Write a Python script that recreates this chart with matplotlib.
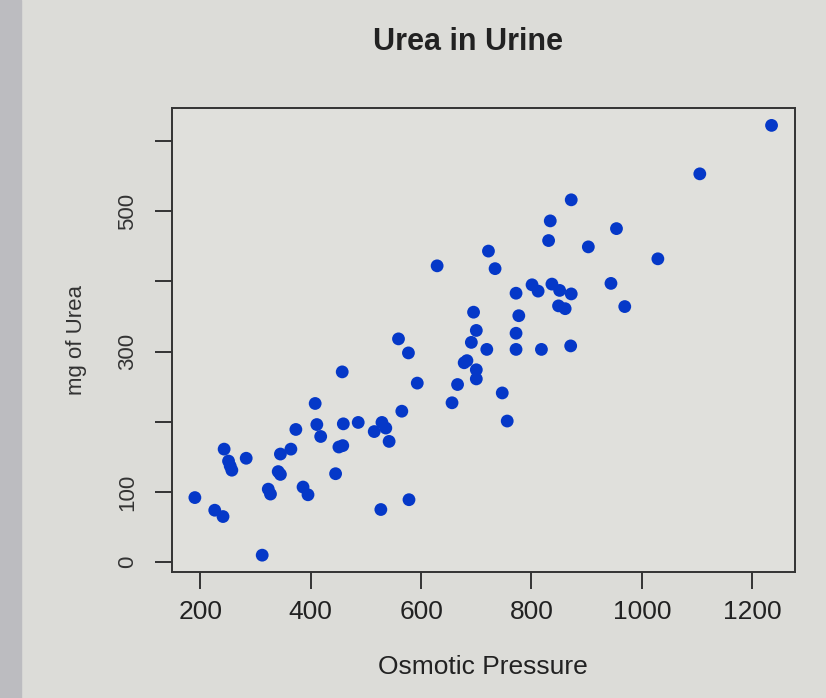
import matplotlib
matplotlib.use("Agg")
import matplotlib.pyplot as plt
from matplotlib.patches import Rectangle

# osmotic pressure vs urea
osmo = [190, 226, 241, 243, 251, 254, 257, 283, 312, 323, 327, 341, 345, 345,
        364, 373, 386, 395, 408, 411, 418, 445, 451, 458, 459, 457, 486, 515,
        529, 536, 542, 527, 565, 559, 577, 578, 593, 629, 656, 666, 678, 683,
        691, 695, 700, 700, 700, 719, 722, 734, 747, 756, 772, 777, 772, 772,
        801, 812, 818, 831, 834, 837, 851, 849, 861, 872, 872, 871, 903, 944,
        954, 969, 1029, 1105, 1235]
urea = [92, 74, 65, 161, 144, 137, 131, 148, 10, 104, 97, 129, 125, 154,
        161, 189, 107, 96, 226, 196, 179, 126, 164, 166, 197, 271, 199, 186,
        199, 191, 172, 75, 215, 318, 298, 89, 255, 422, 227, 253, 284, 287,
        313, 356, 330, 274, 261, 303, 443, 418, 241, 201, 383, 351, 326, 303,
        395, 386, 303, 458, 486, 396, 387, 365, 361, 382, 516, 308, 449, 397,
        475, 364, 432, 553, 622]

x_ticks = [200, 400, 600, 800, 1000, 1200]
y_ticks = [0, 100, 200, 300, 400, 500, 600]
y_labels = ["0", "100", "", "300", "", "500", ""]

bg = "#dcdcd8"
plt.rcParams["font.family"] = ["Liberation Sans", "DejaVu Sans"]

fig = plt.figure(figsize=(8.26, 6.98), dpi=100, facecolor=bg)
fig.patches.append(Rectangle((0, 0), 0.025, 1, transform=fig.transFigure,
                             color="#bcbcc0", zorder=0))
ax = fig.add_axes([0.208, 0.18, 0.754, 0.665], facecolor="#e0e0dc")

ax.scatter(osmo, urea, s=85, color="#0538c8", edgecolors="none", zorder=3)

# R style padding of 4%
xr = max(osmo) - min(osmo)
yr = max(urea) - min(urea)
ax.set_xlim(min(osmo) - 0.04 * xr, max(osmo) + 0.04 * xr)
ax.set_ylim(min(urea) - 0.04 * yr, max(urea) + 0.04 * yr)

ax.set_xticks(x_ticks)
ax.set_xticklabels([str(t) for t in x_ticks])
ax.set_yticks(y_ticks)
ax.set_yticklabels(y_labels, rotation=90, va="center")

for sp in ax.spines.values():
    sp.set_color("#333333")
    sp.set_linewidth(1.4)

ax.tick_params(axis="x", length=12, width=1.4, color="#333333", pad=8,
               labelsize=19, labelcolor="#222222")
ax.tick_params(axis="y", length=12, width=1.4, color="#333333", pad=12,
               labelsize=16, labelcolor="#333333")

ax.set_xlabel("Osmotic Pressure", fontsize=19, color="#222222", labelpad=22)
ax.set_ylabel("mg of Urea", fontsize=16, color="#333333", labelpad=22)
ax.set_title("Urea in Urine", fontsize=22, fontweight="bold", color="#222222",
             pad=42, x=0.475)

fig.savefig("out.png", dpi=100, facecolor=bg)
